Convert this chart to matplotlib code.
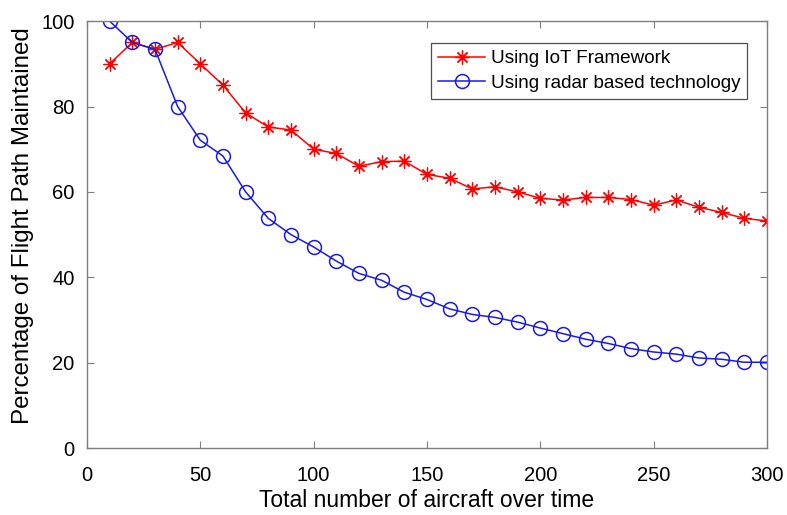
import matplotlib
matplotlib.use('Agg')
import matplotlib.pyplot as plt

aircraft = list(range(10, 301, 10))
iot = [90, 95, 93.4, 95, 90, 85, 78.5, 75.2, 74.5, 70,
       69, 66, 67.1, 67.2, 64.1, 63.2, 60.7, 61.2, 60, 58.5,
       58.1, 58.7, 58.7, 58.2, 56.9, 58.1, 56.4, 55.2, 53.8, 53.2]
radar = [100, 95, 93.4, 80, 72.1, 68.4, 60, 53.8, 50, 47.1,
         43.8, 40.9, 39.3, 36.5, 34.8, 32.6, 31.3, 30.6, 29.5, 28.1,
         26.8, 25.5, 24.5, 23.3, 22.5, 22, 21.1, 20.8, 20.1, 20.1]
xticks = [0, 50, 100, 150, 200, 250, 300]
yticks = [0, 20, 40, 60, 80, 100]

plt.rcParams['font.family'] = ['Liberation Sans', 'DejaVu Sans']

fig = plt.figure(figsize=(7.87, 5.15), dpi=100)
ax = fig.add_axes([0.1105, 0.130, 0.864, 0.829])

# asterisk marker like matlab's '*'
ax.plot(aircraft, iot, color='#ff0000', lw=1.1, marker=(8, 2, 0), ms=10,
        mew=0.9, label='Using IoT Framework')
ax.plot(aircraft, radar, color='#1a1ae6', lw=1.1, marker='o', ms=10,
        mfc='none', mew=1.1, label='Using radar based technology')

ax.set_xlim(0, 300)
ax.set_ylim(0, 100)
ax.set_xticks(xticks)
ax.set_yticks(yticks)

for s in ax.spines.values():
    s.set_color('#7f7f7f')
    s.set_linewidth(1.0)
ax.tick_params(direction='in', length=5, width=0.8, color='#7f7f7f',
               top=True, right=True, labelsize=14.5)
ax.tick_params(axis='x', pad=13)
ax.tick_params(axis='y', pad=9)

ax.set_xlabel('Total number of aircraft over time', fontsize=16.5, labelpad=3)
ax.set_ylabel('Percentage of Flight Path Maintained', fontsize=17.4, labelpad=5)
ax.yaxis.label.set_y(0.522)

leg = ax.legend(loc='upper right', bbox_to_anchor=(0.971, 0.948),
                fontsize=13.6, frameon=True, fancybox=False,
                handlelength=2.5, borderpad=0.35, labelspacing=0.4,
                handletextpad=0.3, borderaxespad=0)
leg.get_frame().set_edgecolor('#222222')
leg.get_frame().set_linewidth(0.9)

fig.savefig('out.png', dpi=100)
